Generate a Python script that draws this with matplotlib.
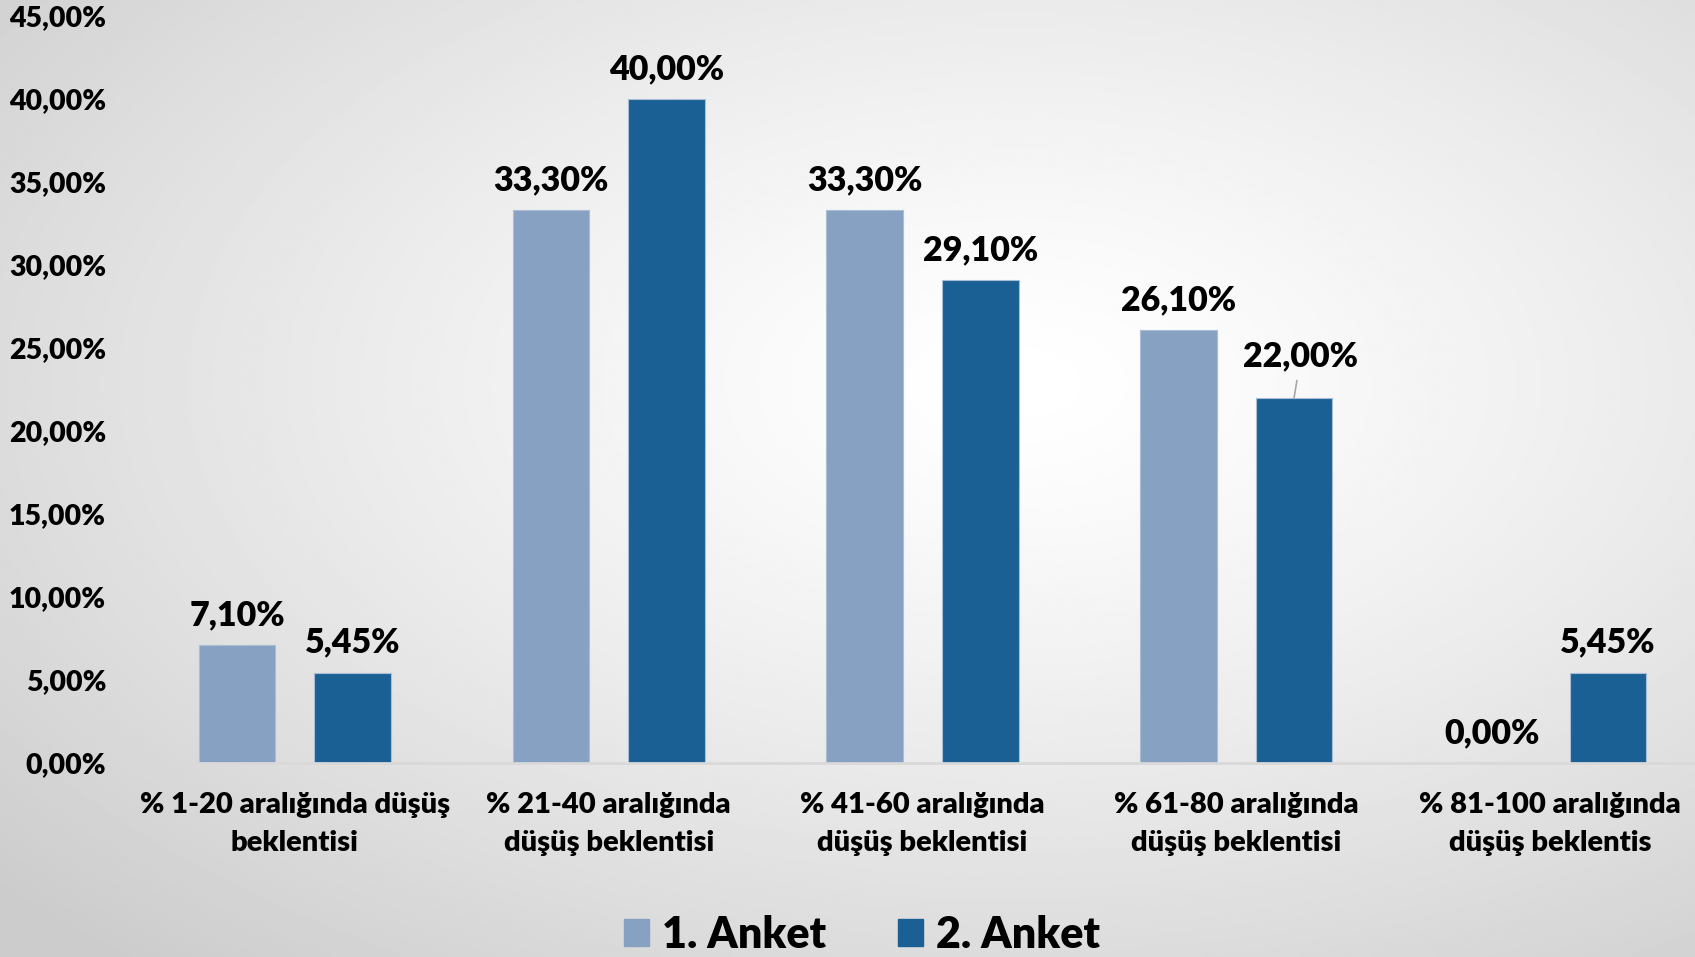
import numpy as np
import matplotlib.pyplot as plt
from matplotlib.patches import Patch

# chart data
categories = ["% 1-20 aralığında düşüş\nbeklentisi",
              "% 21-40 aralığında\ndüşüş beklentisi",
              "% 41-60 aralığında\ndüşüş beklentisi",
              "% 61-80 aralığında\ndüşüş beklentisi",
              "% 81-100 aralığında\ndüşüş beklentis"]
anket1 = [7.10, 33.30, 33.30, 26.10, 0.00]
anket2 = [5.45, 40.00, 29.10, 22.00, 5.45]
series_names = ["1. Anket", "2. Anket"]
yticks = [0, 5, 10, 15, 20, 25, 30, 35, 40, 45]

color1 = "#87A1C3"
color2 = "#1B6094"

plt.rcParams['font.family'] = ['Lato', 'DejaVu Sans']
plt.rcParams['font.weight'] = 'heavy'


def fmt(v):
    return f"{v:.2f}".replace(".", ",") + "%"


W, H = 1695, 957
fig = plt.figure(figsize=(W / 100, H / 100), dpi=100)

# radial grey background
bg = fig.add_axes([0, 0, 1, 1], zorder=-10)
yy, xx = np.mgrid[0:1:400j, 0:1:700j]
r = np.sqrt(((xx - 0.6) / 0.8) ** 2 + ((yy - 0.4) / 0.8) ** 2)
shade = 1 - 0.2 * np.clip(r, 0, 1) ** 1.3
bg.imshow(shade, cmap='gray', vmin=0, vmax=1, extent=[0, 1, 0, 1],
          aspect='auto', origin='upper')
bg.axis('off')

ax = fig.add_axes([138 / W, 1 - 763 / H, (1707 - 138) / W, (763 - 16) / H])
ax.set_facecolor('none')

x = np.arange(len(categories))
w = 0.244
off = 0.184
b1 = ax.bar(x - off, anket1, w, color=color1, edgecolor="#A9BDD6", linewidth=0.8)
b2 = ax.bar(x + off, anket2, w, color=color2, edgecolor="#A9BDD6", linewidth=0.8)

ax.set_xlim(-0.5, len(categories) - 0.5)
ax.set_ylim(0, 45)
for s in ['top', 'right', 'left']:
    ax.spines[s].set_visible(False)
ax.spines['bottom'].set_color('#D9D9D9')
ax.spines['bottom'].set_linewidth(2)

ax.set_yticks(yticks, [fmt(t) for t in yticks])
ax.set_xticks(x, categories)
ax.tick_params(axis='y', length=0, labelsize=20.5, pad=23)
ax.tick_params(axis='x', length=0, labelsize=21, pad=21)
for t in ax.get_xticklabels():
    t.set_linespacing(1.55)

# data labels
for xs, vals in [(x - off, anket1), (x + off, anket2)]:
    for xi, v in zip(xs, vals):
        if v == 22.00:
            # this one sits higher, with a small leader line
            ax.annotate(fmt(v), (xi, v), xytext=(5, 30), textcoords='offset points',
                        ha='center', va='center', fontsize=24.5,
                        arrowprops=dict(arrowstyle='-', color='#A6A6A6', lw=1.2,
                                        shrinkA=4, shrinkB=0))
        else:
            ax.annotate(fmt(v), (xi, v), xytext=(0, 21.5), textcoords='offset points',
                        ha='center', va='center', fontsize=24.5)

handles = [Patch(color=color1), Patch(color=color2)]
fig.legend(handles, series_names, loc='center', bbox_to_anchor=(862 / W, 1 - 935 / H),
           ncol=2, frameon=False, fontsize=31, handlelength=0.58, handleheight=0.58,
           handletextpad=0.3, columnspacing=1.67)

fig.savefig("out.png", dpi=100)
